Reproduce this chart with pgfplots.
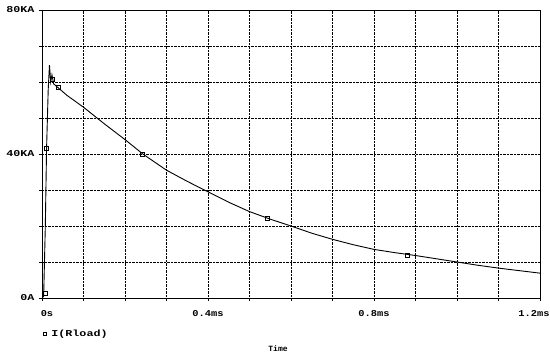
\documentclass[border=0pt]{standalone}
\usepackage{pgfplots}
\pgfplotsset{compat=1.18}
\usepackage{fontspec}
\setmainfont{Liberation Mono}
\newfontfamily\wide[FakeStretch=1.3]{Liberation Mono}
\newfontfamily\widex[FakeStretch=1.15]{Liberation Mono}
\begin{document}
\begin{tikzpicture}[x=1pt,y=1pt]
\useasboundingbox (-42pt,-58pt) rectangle (508pt,298pt);
\begin{axis}[
  at={(0pt,0pt)}, anchor=origin,
  scale only axis, width=498pt, height=288pt,
  xmin=0, xmax=1.2, ymin=0, ymax=80,
  xtick={0,0.1,...,1.2}, ytick={0,10,...,80},
  xticklabels={\hspace*{10pt}0s,,,,0.4ms,,,,0.8ms,,,,\hspace*{-12pt}1.2ms},
  yticklabels={0A,,,,40KA,,,,80KA},
  grid=major,
  major grid style={black, densely dotted, line width=0.6pt},
  axis line style={black, line width=0.6pt},
  tick style={black, line width=0.5pt},
  major tick length=3pt,
  tick pos=left,
  tick align=outside,
  yticklabel style={font=\wide\fontsize{9}{10}\selectfont\bfseries, xshift=-1pt},
  xticklabel style={font=\widex\fontsize{9}{10}\selectfont\bfseries, yshift=-6pt},
  xlabel={Time},
  xlabel style={font=\fontsize{8}{9}\selectfont\bfseries, at={(rel axis cs:0.474,0)}, anchor=north, yshift=-44pt},
  legend style={draw=none, fill=none, at={(rel axis cs:-0.005,-0.095)}, anchor=north west, font=\wide\fontsize{9}{10}\selectfont\bfseries},
  legend image code/.code={\draw[black, line width=0.7pt] (-1.5pt,-1.5pt) rectangle (1.5pt,1.5pt);},
  legend cell align=left,
]
\addplot[black, line width=0.9pt] coordinates {
(0,0) (0.004,0.5) (0.008,20) (0.011,41.5) (0.015,58) (0.018,64.7)
(0.021,60) (0.024,62) (0.028,59.5) (0.035,58.8) (0.045,57.8) (0.06,56.3)
(0.1,53) (0.15,48.4) (0.2,44.0) (0.243,40) (0.3,35.5) (0.35,32.4) (0.4,29.5)
(0.45,26.6) (0.5,24) (0.55,21.9) (0.6,20) (0.65,18) (0.7,16.3) (0.75,14.8)
(0.8,13.5) (0.85,12.6) (0.9,11.8) (0.95,10.9) (1.0,10.0) (1.05,9.1) (1.1,8.3)
(1.15,7.6) (1.2,6.9)
};
\addlegendentry{\hspace*{3pt}I(Rload)}
\addplot[only marks, mark=square, mark size=2pt, black, line width=0.7pt, forget plot] coordinates {
(0.007,1.4) (0.01,41.7) (0.026,60.8) (0.04,58.4) (0.243,39.8) (0.543,22.2) (0.88,11.9)
};
\end{axis}
\end{tikzpicture}
\end{document}
